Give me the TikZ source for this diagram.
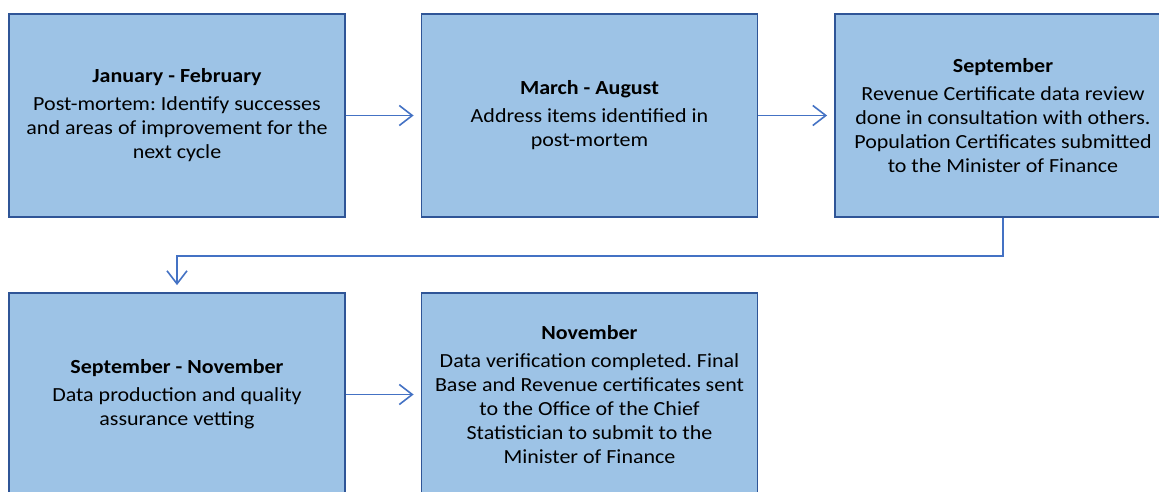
\documentclass[tikz,border=0pt]{standalone}
\usepackage{fontspec}
\setmainfont{Carlito}[FakeStretch=1.1]
\usetikzlibrary{arrows.meta}
\definecolor{boxfill}{HTML}{9DC3E6}
\definecolor{boxedge}{HTML}{2F5597}
\definecolor{flowline}{HTML}{4472C4}
\frenchspacing
\tikzset{
  stage/.style={draw=boxedge, line width=1.8pt, fill=boxfill, minimum width=336pt,
    minimum height=203pt, align=center, font=\fontsize{20}{24}\selectfont},
  flow/.style={draw=flowline, line width=1.6pt, shorten >=7pt,
    -{Straight Barb[length=13pt,width=20pt,line width=1.6pt]}}
}
\begin{document}
\begin{tikzpicture}[x=1pt,y=-1pt]
        \useasboundingbox [fill=white] (0,0) rectangle (1159,491);
        \node [stage] (janfeb) at (177,115.5) {\textbf{January - February}\\[4pt]Post-mortem: Identify successes\\and areas of improvement for the\\next cycle};
        \node [stage] (maraug) at (589.5,115.5) {\textbf{March - August}\\[4pt]Address items identified in\\post-mortem};
        \node [stage] (sept) at (1003,115.5) {\textbf{September}\\[4pt]Revenue Certificate data review\\done in consultation with others.\\Population Certificates submitted\\to the Minister of Finance};
        \node [stage] (sepnov) at (177,394.5) {\textbf{September - November}\\[4pt]Data production and quality\\assurance vetting};
        \node [stage] (nov) at (589.5,394.5) {\textbf{November}\\[4pt]Data verification completed. Final\\Base and Revenue certificates sent\\to the Office of the Chief\\Statistician to submit to the\\Minister of Finance};
        \draw [flow] (janfeb) -- (maraug);
        \draw [flow] (maraug) -- (sept);
        \draw [flow] (sept.south) -- ++(0,38) -| (sepnov.north);
        \draw [flow] (sepnov) -- (nov);
    \end{tikzpicture}
\end{document}
